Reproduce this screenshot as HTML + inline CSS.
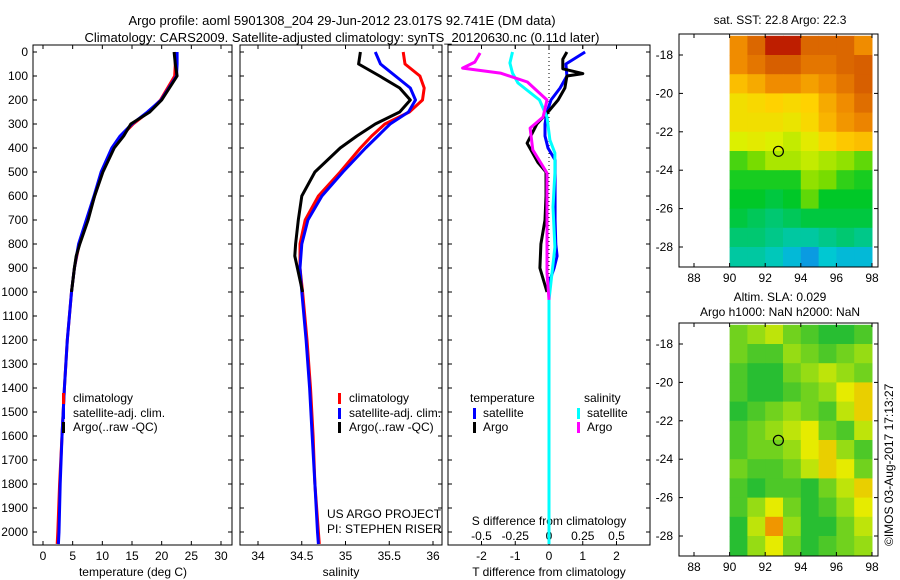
<!DOCTYPE html>
<html><head><meta charset="utf-8">
<style>
html,body{margin:0;padding:0;background:#fff;}
svg{display:block;font-family:"Liberation Sans",sans-serif;}
</style></head>
<body>
<svg id="fig" width="900" height="580" viewBox="0 0 900 580">
<text x="342" y="25" font-size="13" text-anchor="middle">Argo profile: aoml 5901308_204 29-Jun-2012 23.017S 92.741E (DM data)</text>
<text x="342" y="42" font-size="13" text-anchor="middle">Climatology: CARS2009. Satellite-adjusted climatology: synTS_20120630.nc (0.11d later)</text>
<text x="780" y="24" font-size="12" text-anchor="middle">sat. SST: 22.8 Argo: 22.3</text>
<text x="780" y="301" font-size="12" text-anchor="middle">Altim. SLA: 0.029</text>
<text x="780" y="316" font-size="12" text-anchor="middle">Argo h1000: NaN h2000: NaN</text>
<text transform="translate(893,546) rotate(-90)" font-size="12">©IMOS 03-Aug-2017 17:13:27</text>
</svg>
<script>
// ---- data ----
const depthTicks=[0,100,200,300,400,500,600,700,800,900,1000,1100,1200,1300,1400,1500,1600,1700,1800,1900,2000];
const profDepth=[0,50,100,150,200,250,300,350,400,500,600,700,800,900,1000,1200,1400,1600,1800,2000,2050];
const tempClim=[22.3,22.3,22.2,21,19.8,17.8,15.2,13.2,11.8,10,8.7,7.4,6.1,5.3,4.8,4.1,3.6,3.2,2.8,2.5,2.4];
const tempSat=[22.6,22.6,22.5,21.2,19.9,17.6,15,13,11.6,9.8,8.6,7.3,6.0,5.3,4.8,4.1,3.6,3.2,2.9,2.7,2.6];
const argoDepth=[0,50,100,150,200,250,300,350,400,500,600,700,800,850,900,1000];
const tempArgo=[22.1,22.3,22.6,21.3,20,18,14.8,13.6,12,10.1,8.7,7.6,6.2,5.6,5.3,4.8];
const salClim=[35.66,35.68,35.85,35.9,35.88,35.73,35.45,35.3,35.17,34.94,34.69,34.54,34.48,34.48,34.51,34.56,34.6,34.63,34.65,34.69,34.7];
const salSat=[35.34,35.4,35.57,35.74,35.8,35.72,35.51,35.37,35.23,34.97,34.73,34.57,34.5,34.48,34.5,34.55,34.59,34.62,34.65,34.68,34.69];
const salArgo=[35.17,35.15,35.39,35.62,35.74,35.62,35.34,35.13,34.94,34.65,34.5,34.46,34.43,34.42,34.45,34.51];
const tdSatDepth=[0,50,100,150,200,250,300,350,400,450,500,600,700,800,850,900,950,1000,1500,2050];
const tdSat=[1.07,0.5,0.53,0.33,0.06,-0.06,-0.12,-0.12,-0.03,0.18,0.18,0.18,0.18,0.2,0.24,0.15,0.03,0,0,0];
const tdArgoDepth=[0,30,70,90,100,150,200,250,300,380,460,500,600,700,800,900,1000];
const tdArgo=[0.53,0.41,0.41,1.0,0.53,0.47,0.27,-0.03,-0.36,-0.65,-0.33,-0.09,-0.09,-0.12,-0.24,-0.27,-0.06];
const sdSatDepth=[0,46,88,129,200,271,367,421,504,646,813,921,1033,1500,2050];
const sdSat=[-0.27,-0.29,-0.27,-0.23,-0.07,-0.015,0.007,0.044,0.044,0.03,0.044,0.022,0,0,0];
const sdArgoDepth=[4,42,67,88,125,200,271,317,408,504,921,1033];
const sdArgo=[-0.51,-0.55,-0.64,-0.36,-0.16,-0.015,-0.044,-0.14,-0.12,-0.015,-0.015,0];
const tempTicks=[0,5,10,15,20,25,30];
const salTicks=[34,34.5,35,35.5,36];
const salTickLabels=["34","34.5","35","35.5","36"];
const tdTicks=[-2,-1,0,1,2];
const sdTicks=[-0.5,-0.25,0,0.25,0.5];
const sdTickLabels=["-0.5","-0.25","0","0.25","0.5"];
const mapLons=[88,90,92,94,96,98];
const mapLats=[-18,-20,-22,-24,-26,-28];
const sstGrid=[
[24,24.5,25,25,24.5,24.5,24.5,24],
[24,24.3,24.6,24.6,24.3,24.3,24.5,24.6],
[23.5,23.7,24,24,23.8,24,24.3,24.6],
[23.1,23.2,23.3,23.2,23.3,23.7,24,24.4],
[23.1,23.1,23.1,23.0,23.2,23.6,23.9,24.1],
[22.8,22.9,22.8,22.7,22.9,23.2,23.4,23.5],
[22.2,22.4,22.6,22.6,22.7,22.6,22.5,22.3],
[22,22,22,22,22.5,22.4,22.1,22],
[21.9,21.9,21.8,21.9,22.3,21.9,21.9,21.9],
[21.8,21.7,21.6,21.7,21.8,21.8,21.8,21.8],
[21.6,21.6,21.5,21.4,21.4,21.5,21.6,21.5],
[21.4,21.4,21.3,21.1,20.9,21.2,21.1,21.1]];
const slaGrid=[
[0.02,0.03,0.04,0.02,0.01,0.00,0.00,0.01],
[0.02,0.01,0.01,0.03,0.02,0.01,0.02,0.03],
[0.01,0.00,0.00,0.02,0.03,0.04,0.03,0.02],
[0.01,0.00,0.00,0.01,0.02,0.03,0.05,0.06],
[0.00,0.01,0.02,0.03,0.02,0.01,0.04,0.06],
[0.01,0.02,0.03,0.04,0.05,0.02,0.01,0.04],
[0.01,0.02,0.02,0.03,0.05,0.06,0.03,0.01],
[0.02,0.01,0.01,0.02,0.04,0.06,0.05,0.02],
[0.01,0.00,0.01,0.01,0.00,0.02,0.04,0.06],
[0.01,0.03,0.05,0.02,0.00,0.01,0.03,0.05],
[0.00,0.04,0.08,0.03,0.00,0.00,0.02,0.04],
[0.00,0.03,0.05,0.02,0.00,0.01,0.02,0.03]];
const argoLon=92.741, argoLat=-23.017;

// ---- helpers ----
const svg=document.getElementById('fig');
const NS='http://www.w3.org/2000/svg';
function mk(tag,attrs,parent){const e=document.createElementNS(NS,tag);for(const k in attrs)e.setAttribute(k,attrs[k]);(parent||svg).appendChild(e);return e;}
const yD=d=>52+d*0.24;
const PT=45, PB=545;
function lin(d0,d1,r0,r1){return v=>r0+(v-d0)*(r1-r0)/(d1-d0);}
const xT=lin(0,30,43,221), xS=lin(34,36,258,433), xTD=lin(0,1,549,582.75), xSD=lin(0,1,549,684);

function panel(x0,x1,name){
  const r=mk('rect',{x:x0,y:PT,width:x1-x0,height:PB-PT,fill:'none',stroke:'#000','stroke-width':1});
  
  
  depthTicks.forEach(d=>{mk('line',{x1:x0,x2:x0+4,y1:yD(d),y2:yD(d),stroke:'#000'});mk('line',{x1:x1,x2:x1-4,y1:yD(d),y2:yD(d),stroke:'#000'});});
}
function xticks(x0,x1,ticks,labels,fx,y,name){
  ticks.forEach((t,i)=>{const x=fx(t);
    mk('line',{x1:x,x2:x,y1:PB,y2:PB-4,stroke:'#000'});mk('line',{x1:x,x2:x,y1:PT,y2:PT+4,stroke:'#000'});
    const tx=mk('text',{x:x,y:y,'font-size':12,'text-anchor':'middle'});tx.textContent=labels[i];
    
    });
}
function line(xs,ds,fx,color,name,w){
  const p=xs.map((v,i)=>fx(v).toFixed(1)+','+yD(ds[i]).toFixed(1)).join(' ');
  const e=mk('polyline',{points:p,fill:'none',stroke:color,'stroke-width':w||3,'stroke-linejoin':'round'});
  
  
}
function txt(x,y,s,name,anchor){const e=mk('text',{x:x,y:y,'font-size':12,'text-anchor':anchor||'start'});e.textContent=s;
  
  return e;}
function swatch(x,y,c){mk('rect',{x:x,y:y-9,width:3,height:11,fill:c});}

// y tick labels
depthTicks.forEach(d=>{txt(28,yD(d)+4,String(d),'depth-tick-label','end');});

// panel 1
panel(33,232,'temperature-panel');
xticks(33,232,tempTicks,tempTicks.map(String),xT,560,'temperature-tick-label');
txt(133,576,'temperature (deg C)','temperature-axis-title','middle');
line(tempClim,profDepth,xT,'#f00','temp-climatology-line');
line(tempSat,profDepth,xT,'#00f','temp-satellite-line');
line(tempArgo,argoDepth,xT,'#000','temp-argo-line');
swatch(62,402,'#f00');txt(73,402,'climatology','legend-climatology');
swatch(62,417,'#00f');txt(73,417,'satellite-adj. clim.','legend-satellite');
swatch(62,431,'#000');txt(73,431,'Argo(..raw -QC)','legend-argo');

// panel 2
panel(240,442,'salinity-panel');
xticks(240,442,salTicks,salTickLabels,xS,560,'salinity-tick-label');
txt(341,576,'salinity','salinity-axis-title','middle');
line(salClim,profDepth,xS,'#f00','sal-climatology-line');
line(salSat,profDepth,xS,'#00f','sal-satellite-line');
line(salArgo,argoDepth,xS,'#000','sal-argo-line');
swatch(338,402,'#f00');txt(349,402,'climatology','legend-climatology-sal');
swatch(338,417,'#00f');txt(349,417,'satellite-adj. clim.','legend-satellite-sal');
swatch(338,431,'#000');txt(349,431,'Argo(..raw -QC)','legend-argo-sal');
txt(327,518,'US ARGO PROJECT','credit-project');
txt(327,533,'PI: STEPHEN RISER','credit-pi');

// panel 3
panel(448,650,'difference-panel');
mk('line',{x1:549,x2:549,y1:PT,y2:300,stroke:'#000','stroke-dasharray':'1,3'});
xticks(448,650,tdTicks,tdTicks.map(String),xTD,560,'t-diff-tick-label');
sdTicks.forEach((t,i)=>{txt(xSD(t),540,sdTickLabels[i],'s-diff-tick-label','middle');mk('line',{x1:xSD(t),x2:xSD(t),y1:PT,y2:PT+4,stroke:'#000'});});
txt(549,525,'S difference from climatology','s-diff-axis-title','middle');
txt(549,576,'T difference from climatology','t-diff-axis-title','middle');
line(tdSat,tdSatDepth,xTD,'#00f','t-diff-satellite-line');
line(tdArgo,tdArgoDepth,xTD,'#000','t-diff-argo-line');
line(sdSat,sdSatDepth,xSD,'#0ff','s-diff-satellite-line');
line(sdArgo,sdArgoDepth,xSD,'#f0f','s-diff-argo-line');
txt(470,402,'temperature','legend-temperature-head');
txt(584,402,'salinity','legend-salinity-head');
swatch(473,417,'#00f');txt(483,417,'satellite','legend-t-satellite');
swatch(473,431,'#000');txt(483,431,'Argo','legend-t-argo');
swatch(577,417,'#0ff');txt(587,417,'satellite','legend-s-satellite');
swatch(577,431,'#f0f');txt(587,431,'Argo','legend-s-argo');

// maps
function lerpStops(stops,v){
  if(v<=stops[0][0])return stops[0][1];
  for(let i=1;i<stops.length;i++){if(v<=stops[i][0]){const a=stops[i-1],b=stops[i],t=(v-a[0])/(b[0]-a[0]);
    return 'rgb('+a[1].map((c,k)=>Math.round(c+(b[1][k]-c)*t)).join(',')+')';}}
  const l=stops[stops.length-1][1];return 'rgb('+l.join(',')+')';
}
function fixStops(s){return s.map(x=>[x[0],x[1]]);}
const sstStops=fixStops([[20.6,[20,110,240]],[21.2,[0,200,210]],[21.9,[0,200,40]],[22.4,[120,220,0]],[22.8,[220,240,0]],[23.3,[255,210,0]],[24,[240,140,0]],[24.6,[215,95,0]],[25,[190,30,0]]]);
const slaStops=fixStops([[0,[40,190,50]],[0.03,[150,220,20]],[0.05,[230,235,0]],[0.08,[240,150,0]]]);
function colorOf(stops,v){const c=lerpStops(stops,v);return typeof c==='string'?c:'rgb('+c.join(',')+')';}

function map(top,grid,stops,name){
  const L=679,R=878,B=top+233;
  const xL=lin(88,98,694,872), yL=lin(-18,-28,top+21,top+213);
  grid.forEach((row,r)=>row.forEach((v,c)=>{
    const x0=xL(90+c), x1=Math.min(xL(91+c),R), y0=Math.max(yL(-17-r),top), y1=Math.min(yL(-18-r),B);
    if(x1>x0&&y1>y0){const e=mk('rect',{x:x0,y:y0,width:x1-x0+0.5,height:y1-y0+0.5,fill:colorOf(stops,v)});
    
    }
  }));
  const f=mk('rect',{x:L,y:top,width:R-L,height:B-top,fill:'none',stroke:'#000'});
  
  
  mapLons.forEach(lo=>{const x=xL(lo);mk('line',{x1:x,x2:x,y1:B,y2:B-4,stroke:'#000'});mk('line',{x1:x,x2:x,y1:top,y2:top+4,stroke:'#000'});txt(x,B+15,String(lo),name+'-lon-label','middle');});
  mapLats.forEach(la=>{const y=yL(la);mk('line',{x1:L,x2:L+4,y1:y,y2:y,stroke:'#000'});mk('line',{x1:R,x2:R-4,y1:y,y2:y,stroke:'#000'});txt(L-6,y+4,String(la),name+'-lat-label','end');});
  const m=mk('circle',{cx:xL(argoLon),cy:yL(argoLat),r:5,fill:'none',stroke:'#000','stroke-width':1.2});
  
  
}
map(34,sstGrid,sstStops,'sst-map');
map(323,slaGrid,slaStops,'sla-map');
</script>
</body></html>
